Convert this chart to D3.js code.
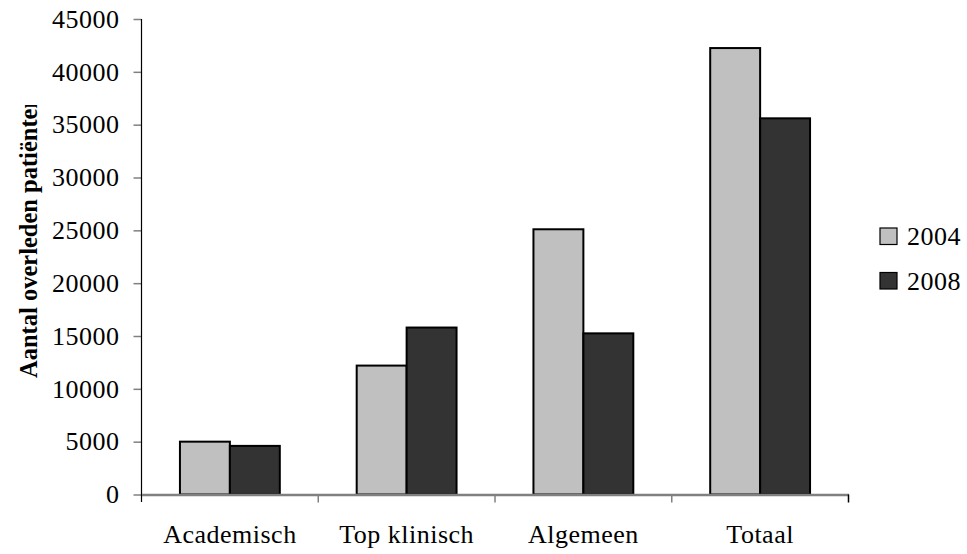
<!DOCTYPE html>
<html><head><meta charset="utf-8">
<script src="https://cdn.jsdelivr.net/npm/d3@7"></script>
<style>body{margin:0;background:#fff}svg{display:block}
svg text{font-family:"Liberation Serif","Times New Roman","DejaVu Serif",serif !important;}
</style>
</head><body>
<script>
const categories = ["Academisch", "Top klinisch", "Algemeen", "Totaal"];
const seriesNames = ["2004", "2008"];
const values2004 = [5000, 12200, 25100, 42250];
const values2008 = [4600, 15800, 15250, 35600];
const yTicks = [0, 5000, 10000, 15000, 20000, 25000, 30000, 35000, 40000, 45000];
const colors = ["#c0c0c0", "#333333"];
const yLabel = "Aantal overleden patiënten";

const W = 967, H = 554;
const svg = d3.select("body").append("svg").attr("width", W).attr("height", H);

const x0 = d3.scaleBand().domain(categories).range([141.5, 848.5]).paddingInner(0).paddingOuter(0);
const x1 = d3.scaleBand().domain(seriesNames).range([0, x0.bandwidth()]).paddingInner(0).paddingOuter(0.77);
const y = d3.scaleLinear().domain([0, 45000]).range([494.5, 19]);

const data = categories.map((c, i) => ({cat: c, vals: [values2004[i], values2008[i]]}));

// bars
const g = svg.append("g");
data.forEach(d => {
  g.selectAll(null).data(seriesNames.map((s, j) => ({s, v: d.vals[j], j}))).enter()
    .append("rect")
    .attr("x", e => x0(d.cat) + x1(e.s))
    .attr("y", e => y(e.v))
    .attr("width", x1.bandwidth())
    .attr("height", e => y(0) - y(e.v))
    .attr("fill", e => colors[e.j])
    .attr("stroke", "#000").attr("stroke-width", 2);
});

// y axis
const yAxis = d3.axisLeft(y).tickValues(yTicks).tickSize(8).tickPadding(14).tickFormat(d3.format("d"));
const ya = svg.append("g").attr("transform", "translate(141.5,0)").call(yAxis);
ya.select(".domain").remove();
ya.selectAll(".tick line").attr("stroke", "#808080").attr("stroke-width", 1.5);
ya.selectAll(".tick text").attr("font-size", 26).attr("letter-spacing", 0.5).attr("fill", "#000");
ya.append("line").attr("x1", 0).attr("x2", 0).attr("y1", y(45000)).attr("y2", 502).attr("stroke", "#000").attr("stroke-width", 1.2);

// x axis
const xa = svg.append("g").attr("transform", `translate(0,${y(0)})`)
  .call(d3.axisBottom(x0).tickSize(0).tickPadding(30));
xa.select(".domain").attr("stroke", "#808080").attr("stroke-width", 2.5);
xa.selectAll(".tick text").attr("font-size", 26).attr("letter-spacing", 0.5).attr("fill", "#000");
xa.selectAll(".sep").data(categories.slice(1).map(c => x0(c)).concat([x0.range()[1]])).enter()
  .append("line").attr("x1", d => d).attr("x2", d => d).attr("y1", 0).attr("y2", 8)
  .attr("stroke", (d, i) => i === 3 ? "#000" : "#808080").attr("stroke-width", 1.5);

// y label (clipped at top like the reference)
svg.append("clipPath").attr("id", "clipY").append("rect").attr("x", 0).attr("y", 105).attr("width", 60).attr("height", 400);
svg.append("g").attr("clip-path", "url(#clipY)")
  .append("text")
  .attr("transform", "translate(36.5,378) rotate(-90)")
  .attr("text-anchor", "start")
  .attr("font-weight", "bold").attr("font-size", 24.5)
  .text(yLabel);

// legend
const leg = svg.append("g").attr("transform", "translate(880,228)");
seriesNames.forEach((s, i) => {
  const row = leg.append("g").attr("transform", `translate(0,${i * 44.5})`);
  row.append("rect").attr("x", 0).attr("y", 0).attr("width", 17).attr("height", 16.5)
    .attr("fill", colors[i]).attr("stroke", "#000").attr("stroke-width", 1.2);
  row.append("text").attr("x", 27).attr("y", 17).attr("font-size", 26).attr("letter-spacing", 0.5).text(s);
});
</script>
</body></html>
